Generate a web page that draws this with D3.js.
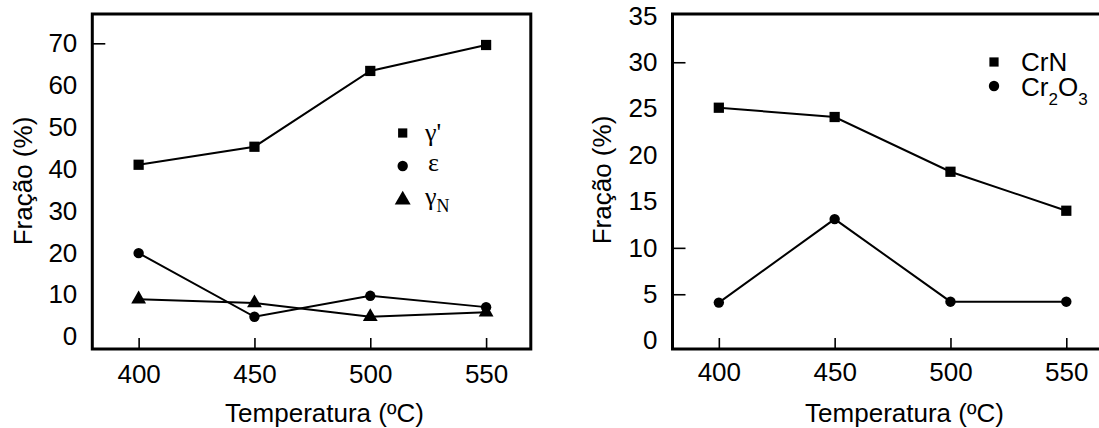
<!DOCTYPE html>
<html><head><meta charset="utf-8">
<script src="https://cdn.jsdelivr.net/npm/d3@7"></script>
<style>
body{margin:0;background:#fff;}
svg{display:block;}
</style></head>
<body>
<svg id="chart" width="1099" height="428"></svg>
<script>
// ---- data ----
const temps = [400, 450, 500, 550];
const gammaPrime = [41, 45.3, 63.4, 69.6];
const epsilon = [19.9, 4.7, 9.7, 7.0];
const gammaN = [8.9, 8.0, 4.7, 5.8];
const crN = [25.1, 24.1, 18.2, 14.0];
const cr2o3 = [4.1, 13.1, 4.2, 4.2];
const xTicks = [400, 450, 500, 550];
const leftYTicks = [0, 10, 20, 30, 40, 50, 60, 70];
const leftYTickMarks = [70];
const rightYTicks = [0, 5, 10, 15, 20, 25, 30, 35];
const rightYTickMarks = [30, 10, 5];
const xTitle = "Temperatura (ºC)";
const yTitle = "Fração (%)";

(function () {
const sans = "'Liberation Sans', Arial, sans-serif";
const serif = "'Liberation Serif', 'Times New Roman', serif";
const svg = d3.select("#chart");
const plotTop = 14, plotBottom = 349, pw = 438.5;

function panel(x0, yDomain, yTicks, yTickMarks, xPad) {
  const g = svg.append("g");
  const x = d3.scaleLinear().domain([380, 569.3]).range([x0, x0 + pw]);
  const y = d3.scaleLinear().domain(yDomain).range([plotBottom, plotTop]);
  const yl = g.append("g").attr("transform", `translate(${x0},0)`)
    .call(d3.axisLeft(y).tickValues(yTicks).tickSize(0).tickPadding(15).tickFormat(d3.format("d")));
  yl.select(".domain").remove();
  yl.selectAll("text").style("font-size", "26px").style("font-family", sans).attr("fill", "#000");
  const ym = g.append("g").attr("transform", `translate(${x0},0)`)
    .call(d3.axisLeft(y).tickValues(yTickMarks).tickSize(-13).tickFormat(""));
  ym.select(".domain").remove();
  ym.selectAll("line").attr("stroke-width", 1.6);
  const xa = g.append("g").attr("transform", `translate(0,${plotBottom})`)
    .call(d3.axisBottom(x).tickValues(xTicks).tickSize(-11).tickPadding(xPad).tickFormat(d3.format("d")));
  xa.select(".domain").remove();
  xa.selectAll("line").attr("stroke-width", 1.6);
  xa.selectAll("text").style("font-size", "26px").style("font-family", sans).attr("fill", "#000");
  g.append("rect").attr("x", x0).attr("y", plotTop).attr("width", pw).attr("height", plotBottom - plotTop)
    .attr("fill", "none").attr("stroke", "#000").attr("stroke-width", 3);
  return {g, x, y};
}

function series(p, vals, sym, size) {
  const pts = temps.map((t, i) => [p.x(t), p.y(vals[i])]);
  p.g.append("path").attr("d", d3.line()(pts)).attr("fill", "none").attr("stroke", "#000").attr("stroke-width", 2);
  p.g.selectAll(null).data(pts).enter().append("path")
    .attr("transform", d => `translate(${d[0]},${d[1]})`)
    .attr("d", d3.symbol().type(sym).size(size)()).attr("fill", "#000");
}

function label(x, y, txt, anchor) {
  return svg.append("text").attr("x", x).attr("y", y).attr("text-anchor", anchor || "start")
    .style("font-family", sans).style("font-size", "26px").text(txt);
}

// ---- left panel ----
const L = panel(92.3, [-3, 77], leftYTicks, leftYTickMarks, 16);
series(L, gammaPrime, d3.symbolSquare, 105);
series(L, epsilon, d3.symbolCircle, 85);
series(L, gammaN, d3.symbolTriangle, 95);

label(324.5, 422, xTitle, "middle");
svg.append("text").attr("transform", "translate(32,181) rotate(-90)").attr("text-anchor", "middle")
  .style("font-family", sans).style("font-size", "26px").text(yTitle);

const legL = [
  {sym: d3.symbolSquare, size: 85, y: 133},
  {sym: d3.symbolCircle, size: 85, y: 166},
  {sym: d3.symbolTriangle, size: 110, y: 200}
];
legL.forEach(d => {
  svg.append("path").attr("transform", `translate(402.7,${d.y})`).attr("d", d3.symbol().type(d.sym).size(d.size)()).attr("fill", "#000");
});
svg.append("text").attr("x", 425).attr("y", 141).style("font-family", serif).style("font-size", "26px").text("γ'");
svg.append("text").attr("x", 428).attr("y", 171).style("font-family", serif).style("font-size", "26px").text("ε");
const gN = svg.append("text").attr("x", 425).attr("y", 205).style("font-family", serif).style("font-size", "26px");
gN.append("tspan").text("γ");
gN.append("tspan").style("font-size", "18px").attr("dy", 7).text("N");

// ---- right panel ----
const R = panel(672.5, [-0.9, 35.2], rightYTicks, rightYTickMarks, 14);
series(R, crN, d3.symbolSquare, 105);
series(R, cr2o3, d3.symbolCircle, 85);

label(904.5, 422, xTitle, "middle");
svg.append("text").attr("transform", "translate(611,180) rotate(-90)").attr("text-anchor", "middle")
  .style("font-family", sans).style("font-size", "26px").text(yTitle);

svg.append("path").attr("transform", "translate(994,62)").attr("d", d3.symbol().type(d3.symbolSquare).size(85)()).attr("fill", "#000");
svg.append("path").attr("transform", "translate(994,86)").attr("d", d3.symbol().type(d3.symbolCircle).size(85)()).attr("fill", "#000");
label(1021, 71, "CrN");
const cr = label(1021, 96, "");
cr.append("tspan").text("Cr");
cr.append("tspan").style("font-size", "17px").attr("dy", 9).text("2");
cr.append("tspan").attr("dy", -9).text("O");
cr.append("tspan").style("font-size", "17px").attr("dy", 9).text("3");
})();
</script>
</body></html>
